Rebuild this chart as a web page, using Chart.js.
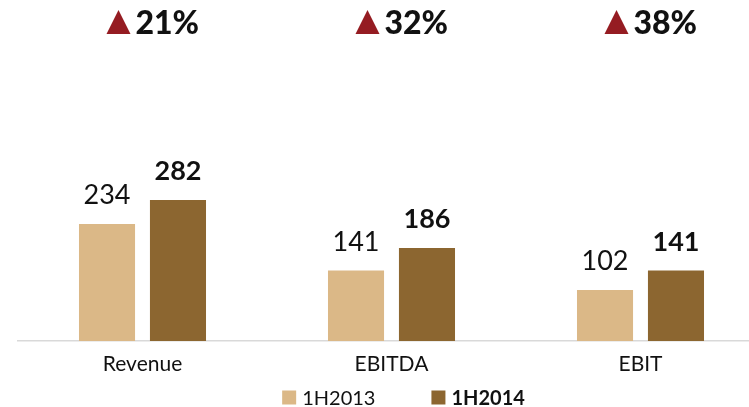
<!DOCTYPE html>
<html>
<head>
<meta charset="utf-8">
<script src="https://cdn.jsdelivr.net/npm/chart.js@4/dist/chart.umd.min.js"></script>
<style>
  html, body { margin: 0; padding: 0; background: #fff; overflow: hidden; }
  canvas { display: block; }
</style>
</head>
<body>
<canvas id="chart" width="765" height="407"></canvas>
<script>
const categories = ["Revenue", "EBITDA", "EBIT"];
const values2013 = [234, 141, 102];
const values2014 = [282, 186, 141];
const seriesNames = ["1H2013", "1H2014"];
const seriesColors = ["#dbb887", "#8c6630"];

const FONT = "Lato";
const TEXT = "#111";
const ARROW = "#951c22";

// growth from first to second half-year, e.g. 282 / 234 -> 21%
const growth = values2014.map((v, i) => Math.round((v / values2013[i] - 1) * 100) + "%");

const labelsPlugin = {
  id: "labels",
  afterDatasetsDraw(chart) {
    const ctx = chart.ctx;
    const xScale = chart.scales.x;
    const area = chart.chartArea;
    ctx.save();
    ctx.fillStyle = TEXT;
    ctx.textBaseline = "alphabetic";

    // values above the bars, second series in bold
    chart.data.datasets.forEach((ds, di) => {
      const meta = chart.getDatasetMeta(di);
      ctx.font = (di === 1 ? "bold " : "") + "27px " + FONT;
      ctx.textAlign = "center";
      meta.data.forEach((bar, i) => {
        ctx.fillText(ds.data[i], bar.x, bar.y - 20);
      });
    });

    // red up-arrow with growth percent above each group
    growth.forEach((g, i) => {
      const left = xScale.getPixelForValue(i) - 36;
      ctx.fillStyle = ARROW;
      ctx.beginPath();
      ctx.moveTo(left, 34);
      ctx.lineTo(left + 24, 34);
      ctx.lineTo(left + 12, 10);
      ctx.closePath();
      ctx.fill();
      ctx.fillStyle = TEXT;
      ctx.font = "900 32px " + FONT;
      ctx.textAlign = "left";
      ctx.fillText(g, left + 29, 34);
    });

    // legend along the bottom
    const box = 14, gapText = 6, gapItem = 56;
    const widths = seriesNames.map((n, i) => {
      ctx.font = (i === 1 ? "bold " : "") + "20px " + FONT;
      return box + gapText + ctx.measureText(n).width;
    });
    const total = widths[0] + gapItem + widths[1];
    let x = (area.left + area.right) / 2 + 12 - total / 2;
    const cy = 397.5;
    seriesNames.forEach((n, i) => {
      ctx.fillStyle = seriesColors[i];
      ctx.fillRect(x, cy - box / 2, box, box);
      ctx.fillStyle = TEXT;
      ctx.font = (i === 1 ? "bold " : "") + "20px " + FONT;
      ctx.textAlign = "left";
      ctx.textBaseline = "middle";
      ctx.fillText(n, x + box + gapText, cy + 1);
      x += widths[i] + gapItem;
    });
    ctx.restore();
  }
};

new Chart(document.getElementById("chart"), {
  type: "bar",
  data: {
    labels: categories,
    datasets: [
      { label: seriesNames[0], data: values2013, backgroundColor: seriesColors[0] },
      { label: seriesNames[1], data: values2014, backgroundColor: seriesColors[1] }
    ]
  },
  options: {
    responsive: false,
    animation: false,
    events: [],
    categoryPercentage: 0.57,
    barPercentage: 0.79,
    layout: { padding: { left: 18, top: 41, right: 0, bottom: 0 } },
    plugins: {
      legend: { display: false },
      tooltip: { enabled: false }
    },
    scales: {
      x: {
        grid: { display: false, drawTicks: false },
        border: { display: true, color: "#d9d9d9", width: 1.5 },
        ticks: { color: TEXT, font: { family: FONT, size: 21 }, padding: 11 },
        afterFit(scale) { scale.height = 66; }
      },
      y: {
        display: false,
        min: 0,
        max: 600
      }
    }
  },
  plugins: [labelsPlugin]
});
</script>
</body>
</html>
